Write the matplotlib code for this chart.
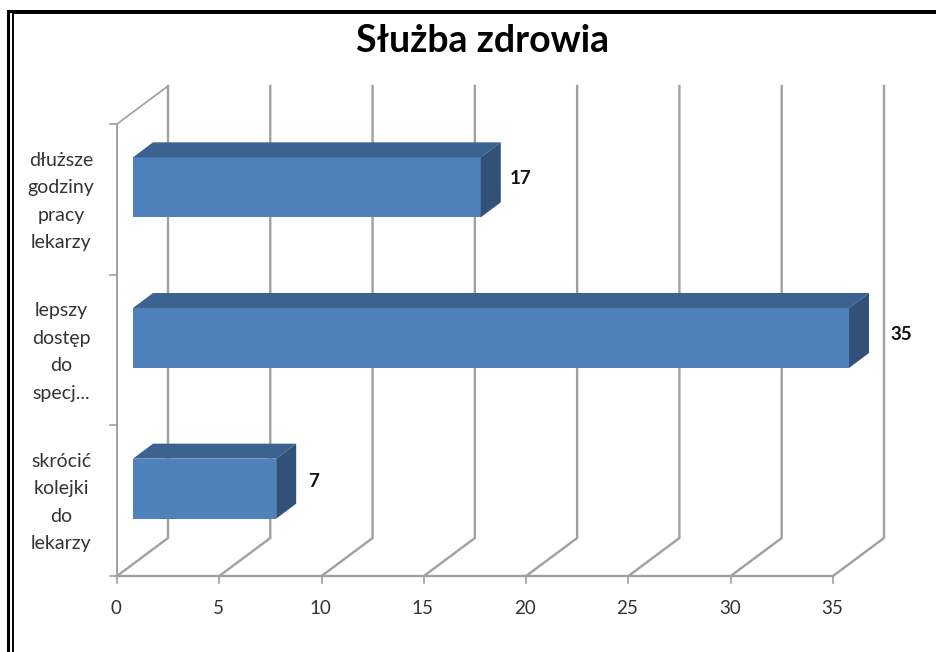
import matplotlib
matplotlib.use("Agg")
import matplotlib.pyplot as plt
from matplotlib.patches import Polygon
from matplotlib.lines import Line2D

categories = ["skrócić\nkolejki\ndo\nlekarzy", "lepszy\ndostęp\ndo\nspecj...", "dłuższe\ngodziny\npracy\nlekarzy"]
values = [7, 35, 17]
xticks = [0, 5, 10, 15, 20, 25, 30, 35]

W, H = 936, 652
# pixel box of the front plane
X0, X1, Y_TOP, Y_BOT = 117, 833, 124, 576
FRONT = "#4f81bd"
TOP = "#3c6390"
SIDE = "#315178"
GRID = "#a0a0a0"
TXT = "#333333"

# nudges of the value labels, in pixels
label_dx = [37, 52, 40]
label_dy = [7, 4, 9]

plt.rcParams['font.family'] = ['Lato', 'DejaVu Sans']

fig = plt.figure(figsize=(W / 100, H / 100), dpi=100, facecolor="white")
ax = fig.add_axes([X0 / W, 1 - Y_BOT / H, (X1 - X0) / W, (Y_BOT - Y_TOP) / H])
ax.set_xlim(0, 35)
ax.set_ylim(0, 3)
ax.axis("off")

# pixel sizes turned to data units
px = 35 / (X1 - X0)
py = 3 / (Y_BOT - Y_TOP)
wall_dx, wall_dy = 51 * px, 38 * py
bar_dx, bar_dy = 20 * px, 15 * py
bar_left = 16 * px
bar_h = 60 * py
bar_shift = 12 * py

# walls and gridlines
for t in xticks:
    ax.plot([t, t + wall_dx, t + wall_dx], [0, wall_dy, 3 + wall_dy], color=GRID, lw=1.7,
            solid_joinstyle="miter", clip_on=False, zorder=1)
    ax.plot([t, t], [0, -7 * py], color=GRID, lw=1.2, clip_on=False, zorder=1)
    ax.text(t - 1 * px, -32 * py, str(t), ha="center", va="center", fontsize=13.5, color=TXT)

ax.plot([0, 35], [0, 0], color=GRID, lw=1.7, clip_on=False, zorder=1)
ax.plot([0, 0], [0, 3], color=GRID, lw=1.4, clip_on=False, zorder=1)
ax.plot([0, wall_dx], [3, 3 + wall_dy], color=GRID, lw=1.2, clip_on=False, zorder=1)
for c in range(4):
    ax.plot([-7 * px, 0], [c, c], color=GRID, lw=1.2, clip_on=False, zorder=1)

# bars
for i, (cat, v) in enumerate(zip(categories, values)):
    yc = i + 0.5 + bar_shift
    y0, y1 = yc - bar_h / 2, yc + bar_h / 2
    bars = ax.barh(yc, v, height=bar_h, left=bar_left, color=FRONT, zorder=3)
    bars[0].set_clip_on(False)
    end = bar_left + v
    ax.add_patch(Polygon([(bar_left, y1), (end, y1), (end + bar_dx, y1 + bar_dy),
                          (bar_left + bar_dx, y1 + bar_dy)], color=TOP, lw=0, zorder=3, clip_on=False))
    ax.add_patch(Polygon([(end, y0), (end + bar_dx, y0 + bar_dy), (end + bar_dx, y1 + bar_dy),
                          (end, y1)], color=SIDE, lw=0, zorder=3, clip_on=False))
    ax.text(end + label_dx[i] * px, yc + label_dy[i] * py, str(v), ha="center", va="center",
            fontsize=13.5, fontweight="bold", color="#111111", zorder=4, clip_on=False)
    ax.text(-56 * px, i + 0.5 - 2 * py, cat, ha="center", va="center", fontsize=14, color=TXT,
            linespacing=1.74)

fig.text(483 / W, 1 - 41 / H, "Służba zdrowia", ha="center", va="center", fontsize=27,
         fontweight="bold", color="black")

# double frame, only on the top and left side
for xs, ys, lw in [([8, 8, W], [H, 10.5, 10.5], 2.2), ([12.5, 12.5, W], [H, 13.2, 13.2], 1.4)]:
    fig.add_artist(Line2D([x / W for x in xs], [1 - y / H for y in ys], transform=fig.transFigure,
                          color="black", lw=lw, solid_joinstyle="miter"))

fig.savefig("out.png", dpi=100)
